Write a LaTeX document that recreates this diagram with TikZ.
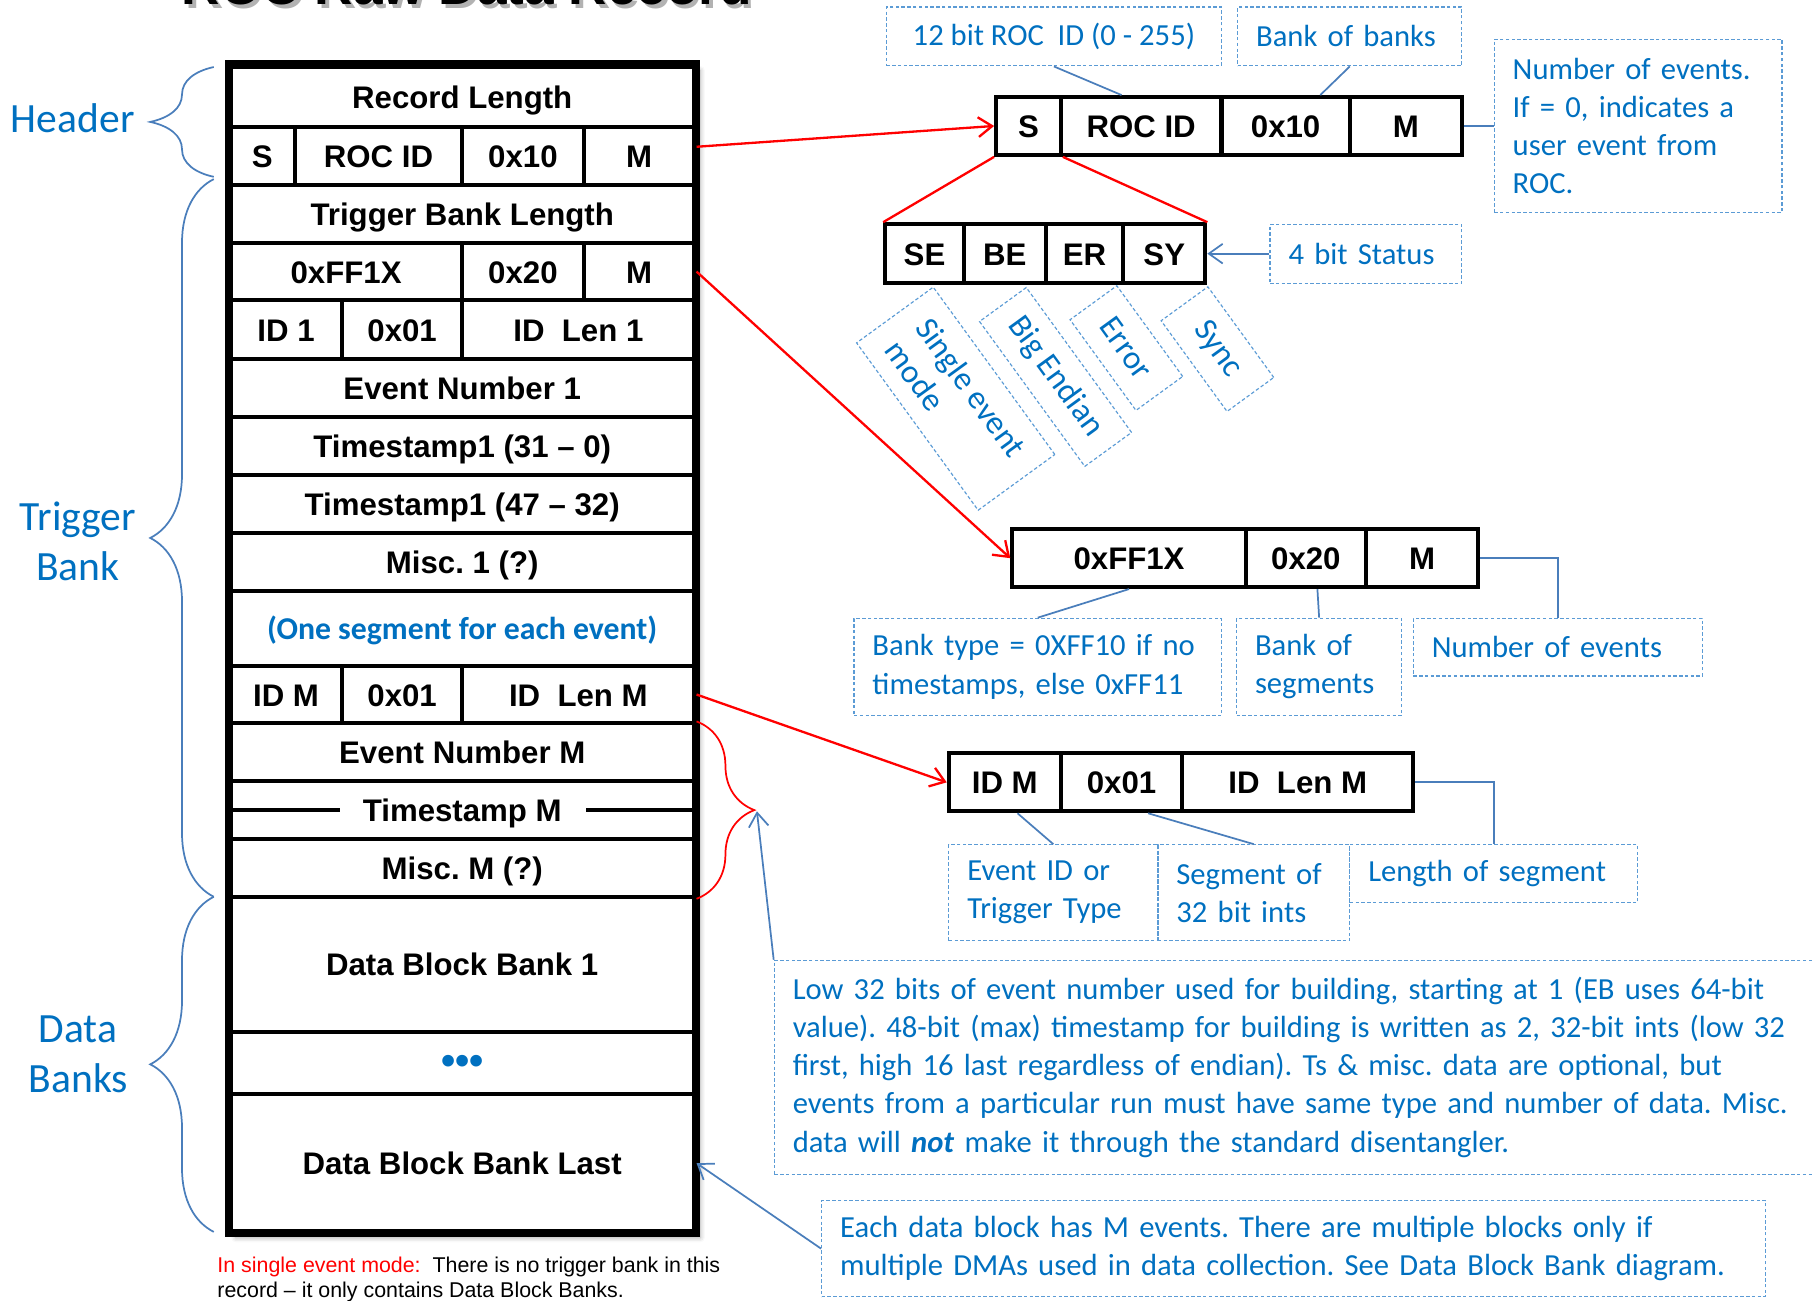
\documentclass[tikz,border=0pt]{standalone}
\usepackage{fontspec}
\setmainfont{Liberation Sans}
\newfontfamily\calfont{Carlito}
\usepackage{xcolor}
\definecolor{rocblue}{HTML}{0070C0}
\definecolor{lineblue}{HTML}{4A7EBB}
\definecolor{dashblue}{HTML}{5B9BD5}
\definecolor{rocred}{HTML}{FF0000}
\usepackage{tikz}
\usetikzlibrary{arrows.meta, decorations.pathreplacing, shadows.blur}
\hyphenpenalty=10000
\exhyphenpenalty=10000

\tikzset{
  cell/.style={draw, line width=3.5pt, inner sep=0pt, minimum height=50pt,
    font=\fontsize{27}{32}\selectfont\bfseries, text height=22pt, text depth=2pt},
  note/.style={draw=dashblue, line width=1pt, dash pattern=on 3pt off 2pt, text=rocblue,
    font=\calfont\fontsize{26.5}{33}\selectfont, align=left, inner xsep=16pt, inner ysep=0pt},
  rotnote/.style={note, rotate=-54, minimum height=50pt, font=\calfont\fontsize{28.5}{33}\selectfont},
  link/.style={draw=lineblue, line width=1.5pt},
  redlink/.style={draw=rocred, line width=2pt},
  barb/.style={-{Straight Barb[length=12pt, width=17pt]}},
  sidebrace/.style={draw=lineblue, line width=1.5pt, decorate, decoration={brace, amplitude=55pt}},
  sidelabel/.style={text=rocblue, font=\calfont\fontsize{36}{43}\selectfont, anchor=base, inner sep=0pt}
}

\begin{document}
\frenchspacing
\begin{tikzpicture}[x=1pt, y=-1pt]
  \useasboundingbox (0,0) rectangle (1568,1125);

  \node[font=\fontsize{46}{55}\selectfont\bfseries, text=black!30, anchor=base, inner sep=0pt] (titleshade) at (407,7) {ROC Raw Data Record};
  \node[font=\fontsize{46}{55}\selectfont\bfseries, anchor=base, inner sep=0pt] (title) at (404,4) {ROC Raw Data Record};

  % the record
  \node[draw, line width=4.5pt, fill=white, minimum width=402pt, minimum height=1010pt, inner sep=0pt,
    blur shadow={shadow xshift=5pt, shadow yshift=-5pt, shadow blur radius=4pt, shadow opacity=35}] (record) at (400,561) {};
  \foreach \n/\y/\h/\t in {reclen/84/52/Record Length, trglen/185/50/Trigger Bank Length,
      evn1/336/50/Event Number 1, ts1lo/386/50/Timestamp1 (31 – 0), ts1hi/436/50/Timestamp1 (47 – 32),
      misc1/486/50/Misc. 1 (?), evnm/651/50/Event Number M, tsm/701/50/Timestamp M,
      miscm/751/50/Misc. M (?), dbb1/834.5/117/Data Block Bank 1, dbblast/1006.5/119/Data Block Bank Last}
    \node[cell, minimum width=402pt, minimum height=\h pt] (\n) at (400,\y) {\t};
  \foreach \n/\x/\w/\t in {rs/227/56/S, rrocid/327.5/145/ROC ID, r0x10/452.5/105/0x10, rm/553/96/M}
    \node[cell, minimum width=\w pt] (\n) at (\x,135) {\t};
  \foreach \n/\x/\w/\t in {tff/299.5/201/0xFF1X, t0x20/452.5/105/0x20, tm/553/96/M}
    \node[cell, minimum width=\w pt] (\n) at (\x,235) {\t};
  \foreach \n/\x/\w/\t in {id1/247.5/97/ID 1, seg1/348/104/0x01, len1/500.5/201/ID~ Len 1}
    \node[cell, minimum width=\w pt, minimum height=51pt] (\n) at (\x,285.5) {\t};
  \foreach \n/\x/\w/\t in {idm/247.5/97/ID M, segm/348/104/0x01, lenm/500.5/201/ID~ Len M}
    \node[cell, minimum width=\w pt] (\n) at (\x,601) {\t};
  \node[cell, minimum width=402pt, minimum height=65pt, text=rocblue,
    font=\calfont\fontsize{27.5}{33}\selectfont\bfseries] (segnote) at (400,543.5) {(One segment for each event)};
  \node[cell, minimum width=402pt, minimum height=54pt, text=rocblue, font=\fontsize{35}{40}\selectfont\bfseries] (dots) at (400,920) {•••};
  \draw[line width=3.5pt] (tsm.west) -- ++(97,0);
  \draw[line width=3.5pt] (tsm.east) -- ++(-96,0);
  \draw[line width=4.5pt] (record.north west) rectangle (record.south east);

  \draw[sidebrace] (185,153) -- (185,58);
  \draw[sidebrace] (185,776) -- (185,155);
  \draw[sidebrace] (185,1066) -- (185,776);
  \node[sidelabel] (hdrlbl) at (63,115) {Header};
  \node[sidelabel] (trglbl) at (67.5,459) {Trigger};
  \node[sidelabel] (banklbl) at (67.5,502) {Bank};
  \node[sidelabel] (datalbl) at (67.5,902) {Data};
  \node[sidelabel] (dbanklbl) at (68,945.5) {Banks};

  \node[anchor=base west, inner sep=0pt, font=\fontsize{18.5}{21}\selectfont] (single1) at (188,1101.5)
    {\textcolor{rocred}{In single event mode:}\ \ There is no trigger bank in this};
  \node[anchor=base west, inner sep=0pt, font=\fontsize{18.5}{21}\selectfont] (single2) at (188,1122.5)
    {record – it only contains Data Block Banks.};

  % header word
  \foreach \n/\x/\w/\t in {hs/890/56/S, hroc/987.5/139/ROC ID, h0x10/1112.5/111/0x10, hm/1216.5/97/M}
    \node[cell, minimum width=\w pt] (\n) at (\x,109) {\t};
  \foreach \n/\x/\w/\t in {sse/800/68/SE, sbe/869.5/71/BE, ser/938.5/67/ER, ssy/1007.5/71/SY}
    \node[cell, minimum width=\w pt, minimum height=51pt] (\n) at (\x,219.5) {\t};
  \node[note, minimum width=290pt, minimum height=51pt] (roclbl) at (912,31.5) {12 bit ROC~ ID (0 - 255)};
  \node[note, minimum width=194pt, minimum height=51pt, text width=162pt] (boblbl) at (1168,31.5) {Bank of banks};
  \node[note, minimum width=249pt, minimum height=150pt, text width=217pt] (nevlbl) at (1417.5,109)
    {Number of events.\\If = 0, indicates a\\user event from\\ROC.};
  \node[note, minimum width=166pt, minimum height=51pt, text width=134pt] (statlbl) at (1182,219.5) {4 bit Status};
  \node[rotnote, minimum width=179pt, minimum height=82pt] (semode) at (827,345) {Single event\\mode};
  \node[rotnote, minimum width=155pt] (belbl) at (913.4,326.2) {Big Endian};
  \node[rotnote, minimum width=97pt] (errlbl) at (974.7,301.2) {Error};
  \node[rotnote, minimum width=97pt] (synclbl) at (1053.5,302.1) {Sync};
  \draw[redlink, barb] ([yshift=8pt]rm.east) -- (hs.west);
  \draw[redlink] (hs.south west) -- (sse.north west);
  \draw[redlink] (hs.south east) -- (ssy.north east);
  \draw[link] (roclbl.south) -- ([xshift=-17pt]hroc.north);
  \draw[link] (boblbl.south) -- ([xshift=30pt]h0x10.north);
  \draw[link] (hm.east) -- (nevlbl.west);
  \draw[link, barb] (statlbl.west) -- (ssy.east);

  % trigger bank word
  \foreach \n/\x/\w/\t in {fff/977/202/0xFF1X, f0x20/1130/104/0x20, fm/1230.5/97/M}
    \node[cell, minimum width=\w pt] (\n) at (\x,483) {\t};
  \node[note, minimum width=318pt, minimum height=84pt, text width=286pt] (btlbl) at (898,577)
    {Bank type = 0XFF10 if no\\timestamps, else 0xFF11};
  \node[note, minimum width=143pt, minimum height=84pt, text width=111pt] (boslbl) at (1141.5,577) {Bank of\\segments};
  \node[note, minimum width=250pt, minimum height=50pt, text width=218pt] (nev2lbl) at (1348,560) {Number of events};
  \draw[redlink, barb] (tm.east) -- (fff.west);
  \draw[link] (fff.south) -- (btlbl.north);
  \draw[link] ([xshift=10pt]f0x20.south) -- (boslbl.north);
  \draw[link] (fm.east) -| (nev2lbl.north);

  % segment word
  \foreach \n/\x/\w/\t in {didm/869.5/97/ID M, d0x01/970.5/105/0x01, dlen/1123/200/ID~ Len M}
    \node[cell, minimum width=\w pt] (\n) at (\x,677) {\t};
  \node[note, minimum width=181pt, minimum height=83pt, text width=149pt] (evidlbl) at (911.5,772.5) {Event ID or\\Trigger Type};
  \node[note, minimum width=166pt, minimum height=83pt, text width=134pt] (seglbl) at (1085,772.5) {Segment of\\32 bit ints};
  \node[note, minimum width=249pt, minimum height=50pt, text width=217pt] (lenlbl) at (1292.5,756) {Length of segment};
  \draw[redlink, barb] (lenm.east) -- (didm.west);
  \draw[link] ([xshift=11pt]didm.south) -- (evidlbl.north);
  \draw[link] ([xshift=23pt]d0x01.south) -- (seglbl.north);
  \draw[link] (dlen.east) -| (lenlbl.north);

  % notes on the events
  \draw[draw=rocred, line width=1.5pt, decorate, decoration={brace, amplitude=50pt}] (evnm.north east) -- (miscm.south east);
  \coordinate (bracetip) at (655,702);
  \node[note, minimum width=914pt, minimum height=185pt, text width=882pt] (longlbl) at (1127,923.5)
    {Low 32 bits of event number used for building, starting at 1 (EB uses 64-bit\\
     value). 48-bit (max) timestamp for building is written as 2, 32-bit ints (low 32\\
     first, high 16 last regardless of endian). Ts \& misc. data are optional, but\\
     events from a particular run must have same type and number of data. Misc.\\
     data will \textbf{\textit{not}} make it through the standard disentangler.};
  \node[note, minimum width=817pt, minimum height=83pt, text width=785pt] (eachlbl) at (1119.5,1080.5)
    {Each data block has M events. There are multiple blocks only if\\
     multiple DMAs used in data collection. See Data Block Bank diagram.};
  \draw[link, barb] (longlbl.north west) -- (bracetip);
  \draw[link, barb] (eachlbl.west) -- (dbblast.east);
\end{tikzpicture}
\end{document}
